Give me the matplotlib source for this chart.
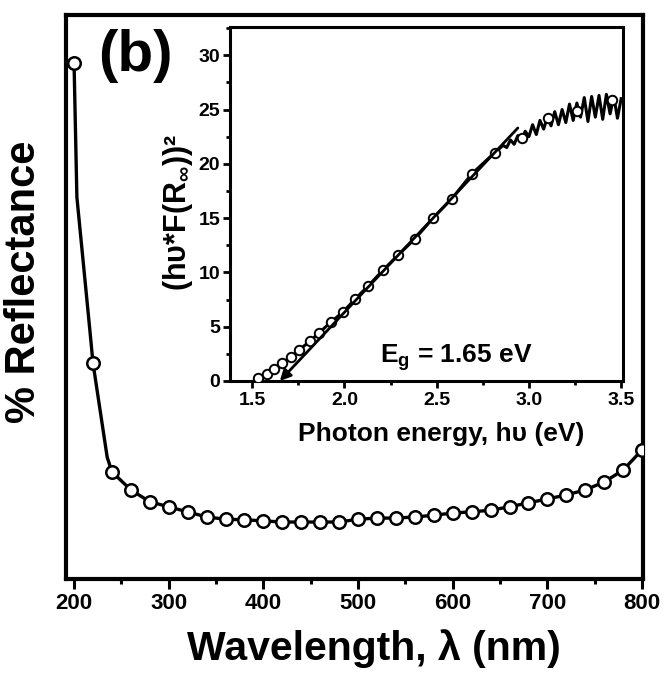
import matplotlib
matplotlib.use("Agg")
import matplotlib.pyplot as plt
from matplotlib.ticker import MultipleLocator, NullLocator

plt.rcParams['font.family'] = ['Liberation Sans', 'DejaVu Sans']
plt.rcParams['font.weight'] = 'bold'
plt.rcParams['mathtext.fontset'] = 'custom'
plt.rcParams['mathtext.default'] = 'regular'
plt.rcParams['mathtext.rm'] = 'Liberation Sans:bold'
plt.rcParams['mathtext.bf'] = 'Liberation Sans:bold'

# ---- main panel: reflectance spectrum ----
wl_markers = [200, 220, 240, 260, 280, 300, 320, 340, 360, 380, 400, 420, 440, 460,
              480, 500, 520, 540, 560, 580, 600, 620, 640, 660, 680, 700, 720, 740,
              760, 780, 800]
refl_markers = [91.5, 38.3, 19.0, 15.8, 13.7, 12.8, 11.9, 11.0, 10.6, 10.5, 10.3, 10.1,
                10.1, 10.1, 10.1, 10.6, 10.8, 10.8, 11.0, 11.3, 11.7, 11.9, 12.2, 12.8,
                13.5, 14.2, 14.9, 15.8, 17.2, 19.3, 22.9]
wl_line = [200, 203, 217, 220, 235, 240, 260, 280, 300, 320, 340, 360, 380, 400, 420,
           440, 460, 480, 500, 520, 540, 560, 580, 600, 620, 640, 660, 680, 700, 720,
           740, 760, 780, 800]
refl_line = [91.5, 67.7, 43.6, 38.3, 21.6, 19.0, 15.8, 13.7, 12.8, 11.9, 11.0, 10.6,
             10.5, 10.3, 10.1, 10.1, 10.1, 10.1, 10.6, 10.8, 10.8, 11.0, 11.3, 11.7,
             11.9, 12.2, 12.8, 13.5, 14.2, 14.9, 15.8, 17.2, 19.3, 22.9]

# ---- inset: Kubelka-Munk plot ----
e_markers = [1.532, 1.581, 1.618, 1.662, 1.711, 1.754, 1.814, 1.862, 1.927, 1.992,
             2.058, 2.128, 2.209, 2.291, 2.383, 2.480, 2.583, 2.692, 2.816, 2.963,
             3.104, 3.261, 3.450]
km_markers = [0.28, 0.64, 1.10, 1.66, 2.20, 2.85, 3.68, 4.42, 5.43, 6.35, 7.54, 8.74,
              10.2, 11.6, 13.1, 15.0, 16.8, 19.1, 21.0, 22.4, 24.2, 24.9, 25.9]
e_line = [1.532, 1.581, 1.618, 1.662, 1.711, 1.754, 1.814, 1.862, 1.927, 1.992,
          2.058, 2.128, 2.209, 2.291, 2.383, 2.480, 2.583, 2.692, 2.80, 2.82, 2.84,
          2.86, 2.88, 2.90, 2.92, 2.94, 2.96, 2.98, 3.00, 3.02, 3.04, 3.06, 3.08,
          3.10, 3.12, 3.14, 3.16, 3.18, 3.20, 3.22, 3.24, 3.26, 3.28, 3.30, 3.32,
          3.34, 3.36, 3.38, 3.40, 3.42, 3.44, 3.46, 3.48, 3.50]
km_line = [0.28, 0.64, 1.10, 1.66, 2.20, 2.85, 3.68, 4.42, 5.43, 6.35, 7.54, 8.74,
           10.2, 11.6, 13.1, 15.0, 16.8, 19.1, 20.8, 21.2, 21.4, 21.7, 21.5, 22.2,
           21.8, 22.6, 22.2, 23.0, 22.5, 23.6, 22.7, 24.0, 23.2, 24.3, 23.5, 24.8,
           23.6, 25.0, 23.8, 25.5, 24.0, 25.6, 24.3, 26.1, 23.9, 26.2, 24.3, 26.3,
           24.1, 26.4, 24.6, 26.2, 24.2, 26.0]
fit_start = (2.94, 23.3)
Eg = 1.65

fig = plt.figure(figsize=(6.65, 6.77), dpi=100)
ax = fig.add_axes([66/665, 1-579/677, 577/665, 564/677])
ax.plot(wl_line, refl_line, color='k', lw=2.4, zorder=2)
ax.plot(wl_markers, refl_markers, 'o', ms=9, mfc='white', mec='k', mew=1.8, zorder=3)
ax.set_xlim(191.5, 801)
ax.set_ylim(0, 100)
ax.xaxis.set_major_locator(MultipleLocator(100))
ax.xaxis.set_minor_locator(MultipleLocator(50))
ax.yaxis.set_major_locator(NullLocator())
for s in ax.spines.values():
    s.set_linewidth(3)
ax.tick_params(axis='x', which='major', direction='out', length=7, width=2.2,
               labelsize=16, pad=3)
ax.tick_params(axis='x', which='minor', direction='out', length=3.5, width=2.2)
for lab in ax.get_xticklabels():
    lab.set_fontweight('bold')

fig.text(187/665, 1-660/677, 'Wavelength, λ (nm)', fontsize=29.5, fontweight='bold',
         ha='left', va='baseline')
fig.text(24/665, 1-282/677, '% Reflectance', fontsize=30, fontweight='bold',
         rotation=90, ha='center', va='center')
fig.text(98/665, 1-29/677, '(b)', fontsize=42, fontweight='bold', ha='left', va='top')

# inset
ins = fig.add_axes([230/665, 1-381/677, 393/665, 354/677])
ins.plot(e_line, km_line, color='k', lw=2.2, zorder=2)
ins.plot(e_markers, km_markers, 'o', ms=6.8, mfc='white', mec='k', mew=1.4, zorder=3)
ins.annotate('', xy=(Eg, 0), xytext=fit_start,
             arrowprops=dict(arrowstyle='-|>', lw=2.0, color='k', mutation_scale=16,
                             shrinkA=0, shrinkB=0), zorder=4)
ins.set_xlim(1.38, 3.51)
ins.set_ylim(0, 32.6)
ins.xaxis.set_major_locator(MultipleLocator(0.5))
ins.xaxis.set_minor_locator(MultipleLocator(0.25))
ins.yaxis.set_major_locator(MultipleLocator(5))
ins.yaxis.set_minor_locator(MultipleLocator(2.5))
ins.xaxis.set_major_formatter(plt.FuncFormatter(lambda v, p: f'{v:.1f}'))
for s in ins.spines.values():
    s.set_linewidth(2.2)
ins.tick_params(which='major', direction='out', length=5, width=2, labelsize=14, pad=3)
ins.tick_params(which='minor', direction='out', length=3, width=2)
ins.tick_params(axis='y', pad=2)
for lab in ins.get_xticklabels() + ins.get_yticklabels():
    lab.set_fontweight('bold')

fig.text(298/665, 1-441/677, 'Photon energy, hυ (eV)', fontsize=19, fontweight='bold',
         ha='left', va='baseline')
fig.text(178/665, 1-212/677, '(hυ*F(R$_{∞}$))²', fontsize=22, fontweight='bold',
         rotation=90, ha='center', va='center')
fig.text(380/665, 1-363/677, 'E$_{g}$ = 1.65 eV', fontsize=19, fontweight='bold',
         ha='left', va='baseline')

fig.savefig('out.png', dpi=100)
